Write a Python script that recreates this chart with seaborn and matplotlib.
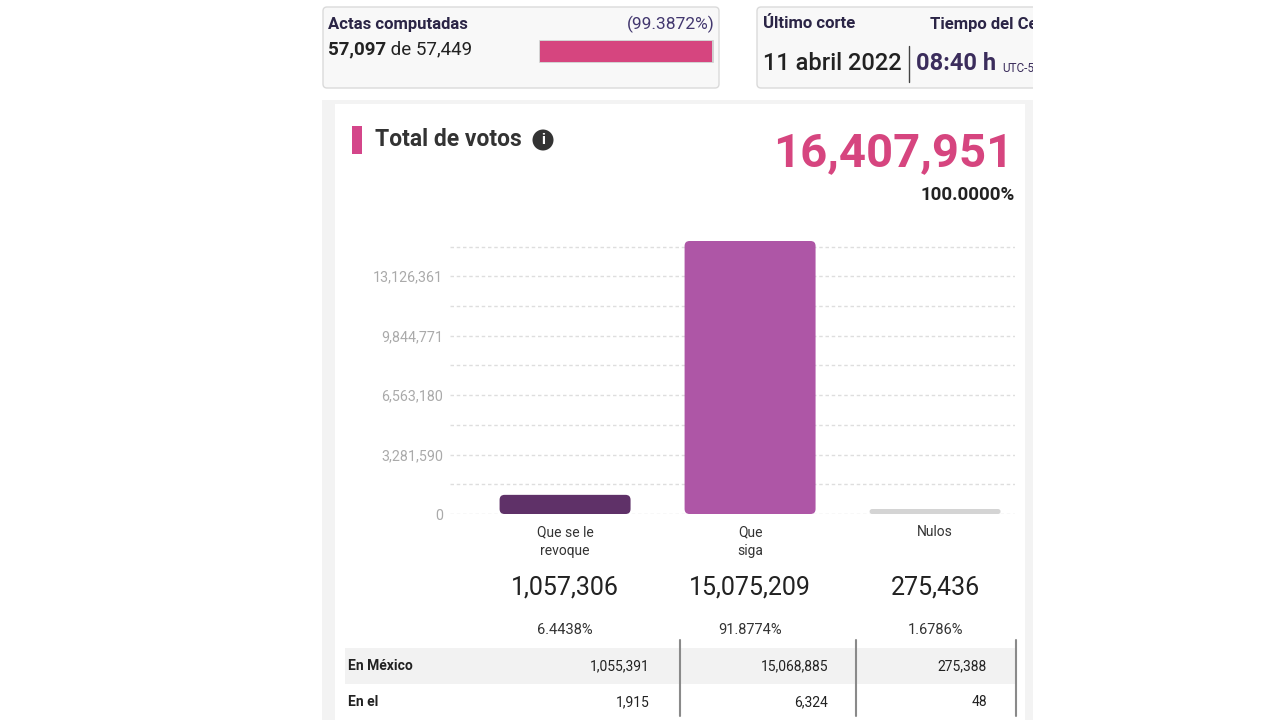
import matplotlib
matplotlib.use("Agg")
import matplotlib.pyplot as plt
import seaborn as sns
import pandas as pd
from matplotlib.patches import FancyBboxPatch, Rectangle, Circle
from matplotlib.transforms import blended_transform_factory

# ---------------- data ----------------
categories = ["Que se le\nrevoque", "Que\nsiga", "Nulos"]
votes = [1057306, 15075209, 275436]
percent_labels = ["6.4438%", "91.8774%", "1.6786%"]
bar_colors = ["#5f3168", "#ae56a6", "#d4d4d4"]
ytick_values = [0, 3281590, 6563180, 9844771, 13126361]
total_votes = 16407951
total_pct = "100.0000%"
actas_computadas = 57097
actas_total = 57449
actas_pct = "(99.3872%)"
corte_fecha = "11 abril 2022"
corte_hora = "08:40 h"
row_names = ["En México", "En el"]
mexico_votes = [1055391, 15068885, 275388]
extranjero_votes = [1915, 6324, 48]

PINK = "#d6457f"
NAVY = "#2b2546"

sns.set_theme(style="white")
plt.rcParams['font.family'] = ['Roboto', 'DejaVu Sans']

fig = plt.figure(figsize=(12.8, 7.2), dpi=100)
fig.patch.set_facecolor("white")

# background layer in pixel coordinates
bg = fig.add_axes([0, 0, 1, 1])
bg.set_xlim(0, 1280)
bg.set_ylim(720, 0)
bg.axis("off")

bg.add_patch(Rectangle((322, 100), 711, 620, fc="#f3f3f3", ec="none", zorder=0))
bg.add_patch(Rectangle((335, 104), 690, 616, fc="white", ec="none", zorder=0.5))

# top cards
bg.add_patch(FancyBboxPatch((323, 7), 396, 81, boxstyle="round,pad=0,rounding_size=4",
                            fc="#f8f8f8", ec="#dadada", lw=1, zorder=1))
bg.add_patch(FancyBboxPatch((757, 7), 300, 81, boxstyle="round,pad=0,rounding_size=4",
                            fc="#f8f8f8", ec="#dadada", lw=1, zorder=1))

bg.text(328, 24, "Actas computadas", fontsize=12, fontweight="bold", color=NAVY,
        va="center", ha="left", zorder=2)
bg.text(715, 24, actas_pct, fontsize=12.5, color="#43386f", va="center", ha="right", zorder=2)
t1 = bg.text(328, 49, f"{actas_computadas:,}", fontsize=13.5, fontweight="bold", color="#222222",
             va="center", ha="left", zorder=2)
bg.annotate(f" de {actas_total:,}", xy=(1, 0), xycoords=t1, va="bottom", ha="left",
            fontsize=13.5, color="#222222", zorder=2)
bar_w = 173
bg.add_patch(Rectangle((540, 41), bar_w, 21, fc="#eeeeee", ec="#cccccc", lw=1.2, zorder=2))
bg.add_patch(Rectangle((540, 41), bar_w * actas_computadas / actas_total, 21, fc=PINK,
                       ec="none", zorder=3))

bg.text(763, 24, "Último corte", fontsize=12, fontweight="bold", color=NAVY,
        va="center", ha="left", zorder=2)
bg.text(930, 24, "Tiempo del Centro", fontsize=12, fontweight="bold", color=NAVY,
        va="center", ha="left", zorder=2)
bg.text(763, 64, corte_fecha, fontsize=17, fontweight=500, color="#222222",
        va="center", ha="left", zorder=2)
bg.plot([909, 909], [46, 82], color="#444444", lw=1, zorder=2)
bg.text(916, 64, corte_hora, fontsize=17, fontweight="bold", color="#3b2d5c",
        va="center", ha="left", zorder=2)
bg.text(1002, 69, "UTC-5", fontsize=8.5, color="#3b2d5c", va="center", ha="left", zorder=2)

# clip everything beyond the panel on the right
bg.add_patch(Rectangle((1033, 0), 260, 100, fc="white", ec="none", zorder=10))

# title of main card
bg.add_patch(Rectangle((352, 126), 10, 28, fc="#d4468a", ec="none", zorder=2))
bg.text(375, 140, "Total de votos", fontsize=16.5, fontweight="bold", color="#333333",
        va="center", ha="left", zorder=2)
bg.add_patch(Circle((543, 140), 10.5, fc="#333333", ec="none", zorder=2))
bg.text(543, 140.5, "i", fontsize=11, fontweight="bold", color="white",
        va="center", ha="center", zorder=3)
bg.text(1013, 153, f"{total_votes:,}", fontsize=34, fontweight="bold", color=PINK,
        va="center", ha="right", zorder=2)
bg.text(1015, 195, total_pct, fontsize=13.5, fontweight="bold", color="#222222",
        va="center", ha="right", zorder=2)

# ---------------- chart ----------------
L, R, T, B = 450, 1015, 241, 514
ax = fig.add_axes([L / 1280, 1 - B / 720, (R - L) / 1280, (B - T) / 720])
ax.patch.set_alpha(0)
df = pd.DataFrame({"cat": categories, "votes": votes})
sns.barplot(data=df, x="cat", y="votes", hue="cat", palette=bar_colors, saturation=1,
            width=0.708, legend=False, ax=ax, zorder=3)
ax.set_xlim(-0.622, 2.432)
ax.set_ylim(0, max(votes))
step = ytick_values[1] - ytick_values[0]
ax.set_yticks(ytick_values)
ax.set_yticks([v + step / 2 for v in ytick_values], minor=True)
ax.set_yticklabels([f"{v:,}" for v in ytick_values])
ax.tick_params(axis="y", which="both", length=0, labelsize=10.3, labelcolor="#aaaaaa", pad=5)
ax.set_xticks([])
ax.set_xlabel("")
ax.set_ylabel("")
ax.grid(axis="y", which="both", color="#dedede", linestyle=(0, (2.5, 2)), lw=1)
ax.set_axisbelow(True)
for s in ax.spines.values():
    s.set_visible(False)

# rounded bars
p0 = ax.transData.transform((0, 0))
p1 = ax.transData.transform((1, 1))
px_x = p1[0] - p0[0]
px_y = p1[1] - p0[1]
for patch in list(ax.patches):
    x, y = patch.get_x(), patch.get_y()
    w, h = patch.get_width(), patch.get_height()
    fc = patch.get_facecolor()
    r_px = min(5.0, h * px_y / 2, w * px_x / 2)
    rb = FancyBboxPatch((x, y), w, h,
                        boxstyle=f"round,pad=0,rounding_size={r_px / px_x}",
                        mutation_aspect=px_x / px_y, fc=fc, ec="none",
                        clip_on=False, zorder=3)
    patch.remove()
    ax.add_patch(rb)

# category labels, values and percentages under bars
tr = blended_transform_factory(ax.transData, bg.transData)
for i, cat in enumerate(categories):
    bg.text(i, 525, cat, transform=tr, fontsize=10, color="#333333", ha="center",
            va="top", linespacing=1.45, zorder=2)
    bg.text(i, 588, f"{votes[i]:,}", transform=tr, fontsize=18, color="#222222",
            ha="center", va="center", zorder=2)
    bg.text(i, 630, percent_labels[i], transform=tr, fontsize=10.5, color="#333333",
            ha="center", va="center", zorder=2)

# ---------------- table ----------------
bg.add_patch(Rectangle((345, 648), 670, 36, fc="#f2f2f2", ec="none", zorder=1))
col_right = [650, 828, 987]
dividers = [680, 856, 1016]
rows = [mexico_votes, extranjero_votes]
row_y = [666, 702]
for name, vals, yy in zip(row_names, rows, row_y):
    bg.text(348, yy, name, fontsize=10, fontweight="bold", color="#222222",
            va="center", ha="left", zorder=2)
    for xr, v in zip(col_right, vals):
        bg.text(xr, yy, f"{v:,}", fontsize=10, color="#222222", va="center",
                ha="right", zorder=2)
for xd in dividers:
    bg.plot([xd, xd], [640, 716], color="#8a8a8a", lw=1.5, zorder=2)

fig.savefig("out.png", dpi=100)
